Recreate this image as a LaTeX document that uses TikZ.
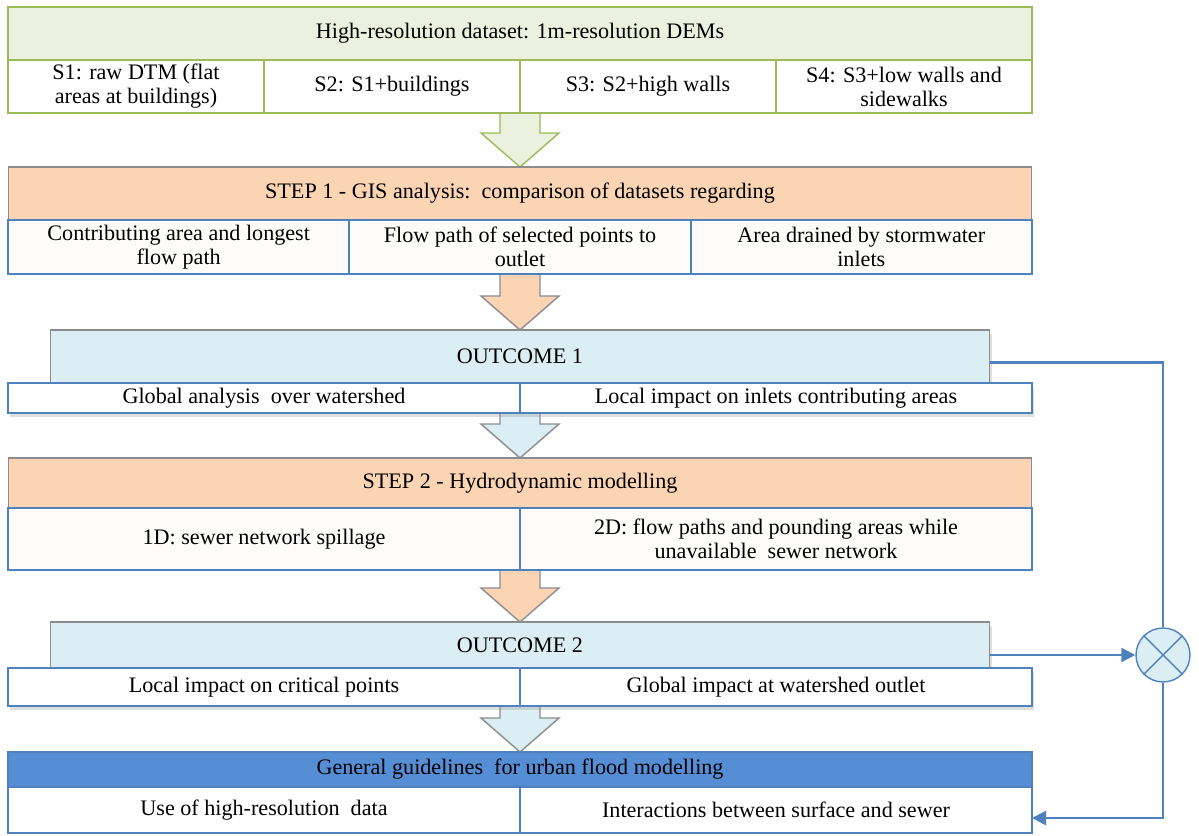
\documentclass[tikz,border=0pt]{standalone}
\usepackage{fontspec}
\setmainfont{Liberation Serif}
\newfontfamily\diagfont{Liberation Serif}
\usetikzlibrary{arrows.meta,calc,shadows}

\definecolor{grnfill}{HTML}{EBF1DE}
\definecolor{grnline}{HTML}{9BBB59}
\definecolor{orgfill}{HTML}{FBD4B4}
\definecolor{lbfill}{HTML}{DBEEF4}
\definecolor{dbfill}{HTML}{558ED5}
\definecolor{bline}{HTML}{4F81BD}
\definecolor{gline}{HTML}{8C8C8C}
\definecolor{cellfill}{HTML}{FDFCFB}

% block arrow between two boxes
\newcommand{\flowarrow}[4]{%
  \draw[fill=#3, draw=#4, line width=0.8pt]
    ($#1+(-20,0)$) -- ($#1+(20,0)$) -- ($#2+(20,-34)$) -- ($#2+(39,-34)$)
    -- #2 -- ($#2+(-39,-34)$) -- ($#2+(-20,-34)$) -- cycle;}

\begin{document}
\begin{tikzpicture}[x=0.02cm, y=-0.02cm,
  font=\diagfont\fontsize{12.6}{13.7}\selectfont,
  box/.style={rectangle, inner sep=0pt, outer sep=0pt, align=center},
  hdr/.style={box, draw=gline, line width=0.6pt},
  cell/.style={box, draw=bline, line width=1.2pt},
  shade/.style={drop shadow={opacity=0.25, shadow xshift=0.04cm, shadow yshift=-0.08cm}},
  link/.style={draw=bline, line width=1.3pt},
  tip/.style={-{Triangle[length=8pt, width=8pt]}}]

  \useasboundingbox (0,0) rectangle (1199,835);

  % Block arrows (drawn first, boxes on top)
  \coordinate (a0) at (520,113);
  \coordinate (a1) at (520,274);
  \coordinate (a2) at (520,413);
  \coordinate (a3) at (520,570);
  \coordinate (a4) at (520,706);
  \flowarrow{(a0)}{(520,167)}{grnfill}{grnline}
  \flowarrow{(a1)}{(520,330)}{orgfill}{gline}
  \flowarrow{(a2)}{(520,458)}{lbfill}{gline}
  \flowarrow{(a3)}{(520,622)}{orgfill}{gline}
  \flowarrow{(a4)}{(520,752)}{lbfill}{gline}

  % Dataset
  \node[box, fill=grnfill, draw=grnline, line width=1.2pt, minimum width=20.48cm, minimum height=1.06cm] (data) at (520,33.5) {High-resolution dataset: 1m-resolution DEMs};
  \node[box, fill=white, draw=grnline, line width=1.2pt, minimum width=5.12cm, minimum height=1.06cm] (s1) at (136,86.5) {S1: raw DTM (flat\\areas at buildings)};
  \node[box, fill=white, draw=grnline, line width=1.2pt, minimum width=5.12cm, minimum height=1.06cm] (s2) at (392,86.5) {S2: S1+buildings};
  \node[box, fill=white, draw=grnline, line width=1.2pt, minimum width=5.12cm, minimum height=1.06cm] (s3) at (648,86.5) {S3: S2+high walls};
  \node[box, fill=white, draw=grnline, line width=1.2pt, minimum width=5.12cm, minimum height=1.06cm] (s4) at (904,86.5) {S4: S3+low walls and\\sidewalks};

  % Step 1
  \node[hdr, fill=orgfill, minimum width=20.48cm, minimum height=1.06cm] (st1) at (520,193.5) {STEP 1 - GIS analysis:\ \ comparison of datasets regarding};
  \node[cell, fill=cellfill, minimum width=6.827cm, minimum height=1.08cm] (g1) at (178.7,247) {Contributing area and longest\\flow path};
  \node[cell, fill=cellfill, minimum width=6.827cm, minimum height=1.08cm] (g2) at (520,247) {Flow path of selected points to\\outlet};
  \node[cell, fill=cellfill, minimum width=6.827cm, minimum height=1.08cm] (g3) at (861.3,247) {Area drained by stormwater\\inlets};

  % Outcome 1
  \node[hdr, fill=lbfill, shade, minimum width=18.8cm, minimum height=1.06cm] (o1h) at (520,356.5) {OUTCOME 1};
  \node[cell, fill=white, shade, minimum width=10.24cm, minimum height=0.6cm] (o1a) at (264,398) {Global analysis\ \ over watershed};
  \node[cell, fill=white, shade, minimum width=10.24cm, minimum height=0.6cm] (o1b) at (776,398) {Local impact on inlets contributing areas};

  % Step 2
  \node[hdr, fill=orgfill, minimum width=20.48cm, minimum height=1.0cm] (st2) at (520,483) {STEP 2 - Hydrodynamic modelling};
  \node[cell, fill=cellfill, minimum width=10.24cm, minimum height=1.24cm] (h1) at (264,539) {1D: sewer network spillage};
  \node[cell, fill=cellfill, minimum width=10.24cm, minimum height=1.24cm] (h2) at (776,539) {2D: flow paths and pounding areas while\\unavailable\ \ sewer network};

  % Outcome 2
  \node[hdr, fill=lbfill, shade, minimum width=18.8cm, minimum height=0.92cm] (o2h) at (520,645) {OUTCOME 2};
  \node[cell, fill=white, shade, minimum width=10.24cm, minimum height=0.76cm] (o2a) at (264,687) {Local impact on critical points};
  \node[cell, fill=white, shade, minimum width=10.24cm, minimum height=0.76cm] (o2b) at (776,687) {Global impact at watershed outlet};

  % Guidelines
  \node[box, fill=dbfill, draw=bline, line width=1.2pt, minimum width=20.48cm, minimum height=0.7cm] (gl) at (520,769.5) {General guidelines\ \ for urban flood modelling};
  \node[cell, fill=white, minimum width=10.24cm, minimum height=0.92cm] (f1) at (264,810) {Use of high-resolution\ \ data};
  \node[cell, fill=white, minimum width=10.24cm, minimum height=0.92cm] (f2) at (776,810) {Interactions between surface and sewer};

  % Combination of outcomes
  \node[circle, draw=bline, fill=lbfill, line width=0.8pt, minimum size=1.08cm, inner sep=0pt] (mix) at (1163,655) {};
  \draw[draw=bline, line width=0.8pt] (mix.45) -- (mix.225) (mix.135) -- (mix.315);

  \draw[link] ($(o1h.east)+(0,6)$) -| (mix.north);
  \draw[link, tip] (o2h.east |- mix.west) -- (mix.west);
  \draw[link, tip] (mix.south) |- ($(f2.east)+(0,8)$);

\end{tikzpicture}
\end{document}
